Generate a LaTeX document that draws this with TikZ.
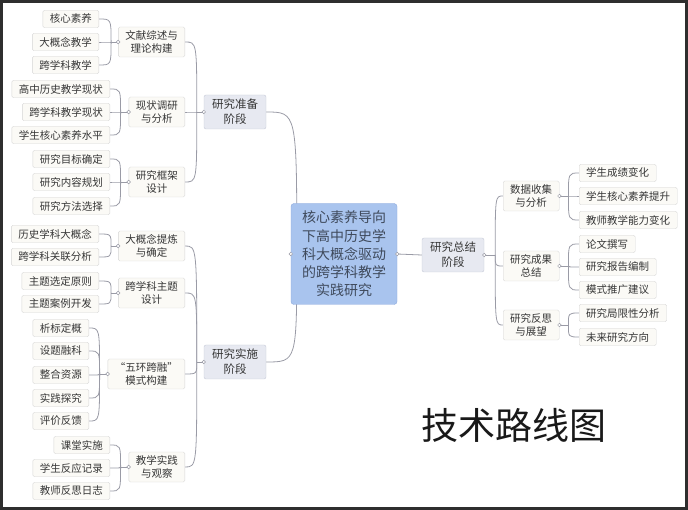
\documentclass[tikz,border=0pt]{standalone}
\usepackage{fontspec}
\setmainfont{Noto Sans CJK SC}
\usepackage{tikz}
\usetikzlibrary{
calc,
backgrounds
}
\definecolor{mapgray}{HTML}{9A9BA6}
\definecolor{mapleaf}{HTML}{FBFAF6}
\definecolor{mapleafline}{HTML}{D5D5D5}
\definecolor{mapstage}{HTML}{E7E9F1}
\definecolor{mapstageline}{HTML}{C6CAD7}
\definecolor{maproot}{HTML}{A9C4EE}
\definecolor{maprootline}{HTML}{8EAADC}
\definecolor{maproottext}{HTML}{3F4A5C}
\definecolor{maptext}{HTML}{363636}
\definecolor{mapframe}{HTML}{2E2E2E}
\newcommand{\leaffont}{\fontsize{10.5}{12.7}\selectfont}
\newcommand{\stagefont}{\fontsize{11.5}{15}\selectfont}
\newcommand{\rootfont}{\fontsize{14}{18.3}\selectfont}
\tikzset{
leaf/.style={draw=mapleafline, fill=mapleaf, rounded corners=1.5pt, text=maptext,
  font=\leaffont, inner xsep=7pt, inner ysep=0pt, minimum height=17.5pt},
sub/.style={leaf, align=center, inner ysep=3pt, minimum height=30pt},
stage/.style={draw=mapstageline, fill=mapstage, rounded corners=2pt, text=maptext,
  font=\stagefont, align=center, minimum width=62pt, minimum height=34pt},
root/.style={draw=maprootline, fill=maproot, rounded corners=3pt, text=maproottext,
  font=\rootfont, align=center, minimum width=106pt, minimum height=101pt},
link/.style={draw=mapgray, line width=0.8pt},
knob/.style={draw=mapgray, fill=white, line width=0.5pt}
}
\begin{document}
\begin{tikzpicture}[x=1pt, y=-1pt]
\useasboundingbox (0,0) rectangle (688,510);

% Root and stages
\node[root] (root) at (344,254) {核心素养导向\\下高中历史学\\科大概念驱动\\的跨学科教学\\实践研究};
\node[stage] (zhunbei) at (235,112) {研究准备\\阶段};
\node[stage] (shishi) at (235,362) {研究实施\\阶段};
\node[stage] (zongjie) at (453,255) {研究总结\\阶段};

% Second level, left side
\node[sub, anchor=east] (wenxian) at (185,42) {文献综述与\\理论构建};
\node[sub, anchor=east] (xianzhuang) at (185,112) {现状调研\\与分析};
\node[sub, anchor=east] (kuangjia) at (185,182) {研究框架\\设计};
\node[sub, anchor=east] (tilian) at (185,246) {大概念提炼\\与确定};
\node[sub, anchor=east] (zhuti) at (185,293) {跨学科主题\\设计};
\node[sub, anchor=east] (wuhuan) at (185,374) {“五环跨融”\\模式构建};
\node[sub, anchor=east] (shijian) at (185,467) {教学实践\\与观察};

% Second level, right side
\node[sub, anchor=west] (shuju) at (503,196) {数据收集\\与分析};
\node[sub, anchor=west] (chengguo) at (503,266) {研究成果\\总结};
\node[sub, anchor=west] (fansi) at (503,325) {研究反思\\与展望};

% Leaves, left side
\foreach \i/\y/\t in {1/19/核心素养, 2/42/大概念教学, 3/65/跨学科教学}
  \node[leaf, anchor=east] (wenxian\i) at (99,\y) {\t};
\foreach \i/\y/\t in {1/89/高中历史教学现状, 2/112/跨学科教学现状, 3/135/学生核心素养水平}
  \node[leaf, anchor=east] (xianzhuang\i) at (110,\y) {\t};
\foreach \i/\y/\t in {1/159/研究目标确定, 2/182/研究内容规划, 3/206/研究方法选择}
  \node[leaf, anchor=east] (kuangjia\i) at (110,\y) {\t};
\foreach \i/\y/\t in {1/234/历史学科大概念, 2/257/跨学科关联分析}
  \node[leaf, anchor=east] (tilian\i) at (99,\y) {\t};
\foreach \i/\y/\t in {1/281/主题选定原则, 2/304/主题案例开发}
  \node[leaf, anchor=east] (zhuti\i) at (99,\y) {\t};
\foreach \i/\y/\t in {1/328/析标定概, 2/351/设题融科, 3/375/整合资源, 4/398/实践探究, 5/421/评价反馈}
  \node[leaf, anchor=east] (wuhuan\i) at (89,\y) {\t};
\foreach \i/\y/\t in {1/445/课堂实施, 2/468/学生反应记录, 3/491/教师反思日志}
  \node[leaf, anchor=east] (shijian\i) at (110,\y) {\t};

% Leaves, right side
\foreach \i/\y/\t in {1/173/学生成绩变化, 2/196/学生核心素养提升, 3/220/教师教学能力变化}
  \node[leaf, anchor=west] (shuju\i) at (579,\y) {\t};
\foreach \i/\y/\t in {1/244/论文撰写, 2/267/研究报告编制, 3/290/模式推广建议}
  \node[leaf, anchor=west] (chengguo\i) at (579,\y) {\t};
\foreach \i/\y/\t in {1/313/研究局限性分析, 2/337/未来研究方向}
  \node[leaf, anchor=west] (fansi\i) at (579,\y) {\t};

% Junctions
\coordinate (root-j) at ([xshift=6pt]root.west);
\coordinate (zhunbei-j) at ([xshift=-7pt]zhunbei.west);
\coordinate (shishi-j) at ([xshift=-7pt]shishi.west);
\coordinate (zongjie-j) at ([xshift=11pt]zongjie.east);
\foreach \p in {wenxian, tilian, zhuti}
  \coordinate (\p-j) at ([xshift=-7pt]\p.west);
\foreach \p in {xianzhuang, kuangjia, wuhuan, shijian}
  \coordinate (\p-j) at ([xshift=-8pt]\p.west);
\foreach \p in {shuju, chengguo, fansi}
  \coordinate (\p-j) at ([xshift=9pt]\p.east);

% Connectors
\begin{scope}[on background layer]
\foreach \c in {zhunbei, shishi}
  \draw[link] (\c.east) .. controls (root-j |- \c.east) .. (root-j);
\draw[link] (root.east) -- (zongjie.west);
\foreach \p/\kids in {zhunbei/{wenxian,xianzhuang,kuangjia}, shishi/{tilian,zhuti,wuhuan,shijian}} {
  \draw[link] (\p.west) -- (\p-j);
  \foreach \c in \kids
    \draw[link] (\c.east) .. controls (\p-j |- \c.east) .. (\p-j);
}
\draw[link] (zongjie.east) -- (zongjie-j);
\foreach \c in {shuju, chengguo, fansi}
  \draw[link] (\c.west) .. controls (zongjie-j |- \c.west) .. (zongjie-j);
\foreach \p/\n in {wenxian/3, xianzhuang/3, kuangjia/3, tilian/2, zhuti/2, wuhuan/5, shijian/3} {
  \draw[link] (\p.west) -- (\p-j);
  \foreach \i in {1,...,\n}
    \draw[link] (\p\i.east) .. controls (\p-j |- \p\i.east) .. (\p-j);
}
\foreach \p/\n in {shuju/3, chengguo/3, fansi/2} {
  \draw[link] (\p.east) -- (\p-j);
  \foreach \i in {1,...,\n}
    \draw[link] (\p\i.west) .. controls (\p-j |- \p\i.west) .. (\p-j);
}
\end{scope}

% Collapse knobs
\foreach \p in {zhunbei, shishi, wenxian, xianzhuang, kuangjia, tilian, zhuti, wuhuan, shijian, root}
  \draw[knob] (\p.west) circle (1.8);
\foreach \p in {root, zongjie, shuju, chengguo, fansi}
  \draw[knob] (\p.east) circle (1.8);

% Title
\node[font=\fontsize{37}{40}\selectfont, text=black!90] (title) at (514,425) {技术路线图};

% Frame
\draw[mapframe, line width=3pt] (1.5,1.5) rectangle (686.5,508.5);
\end{tikzpicture}
\end{document}
